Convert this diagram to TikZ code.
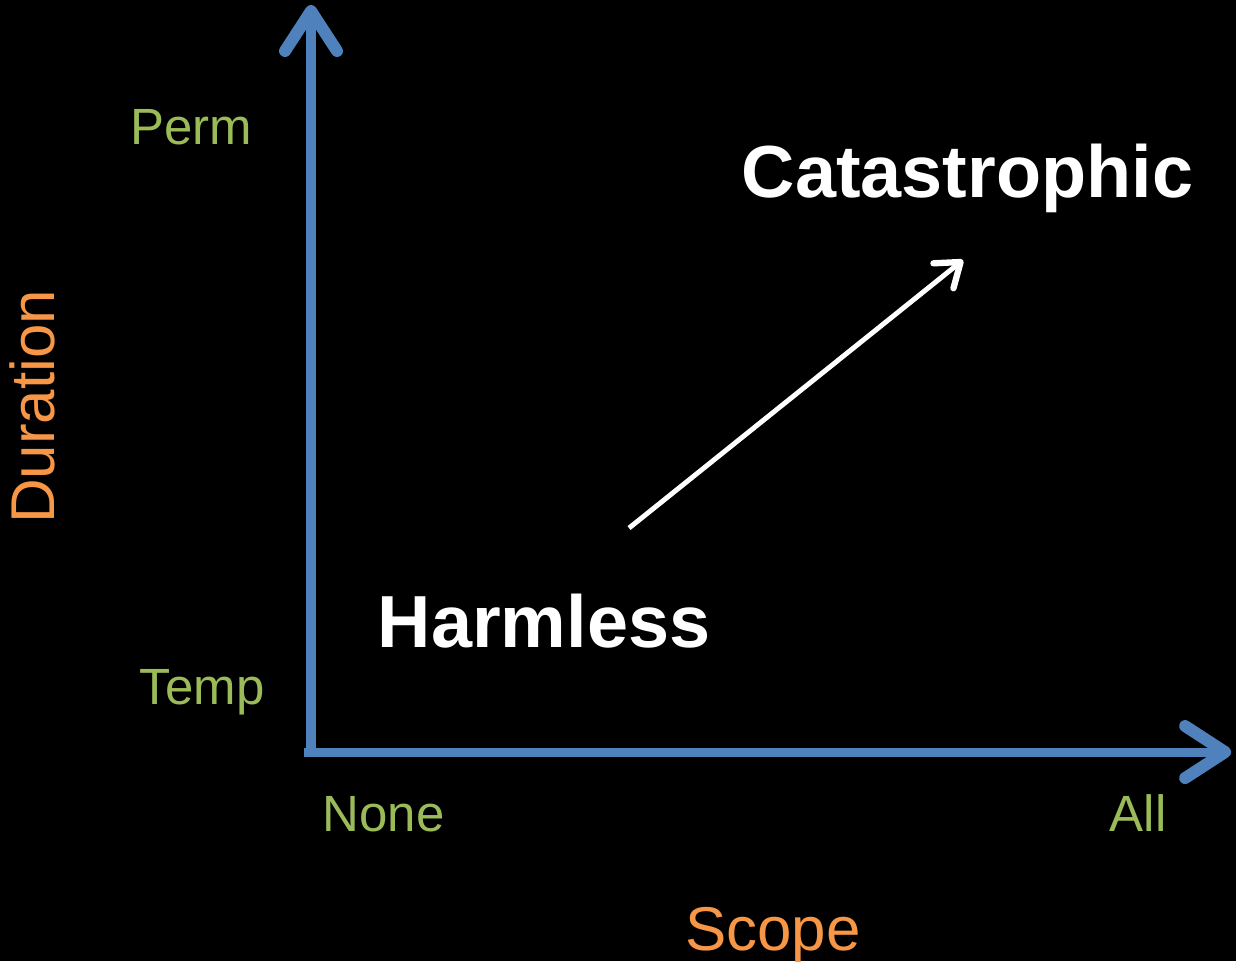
\documentclass[tikz,border=0pt]{standalone}
\usepackage{fontspec}
\setmainfont{Liberation Sans}
\usetikzlibrary{arrows.meta}

\definecolor{axisblue}{HTML}{4F81BD}
\definecolor{ticgreen}{HTML}{9BBB59}
\definecolor{titorange}{HTML}{F79646}

\begin{document}
\begin{tikzpicture}[scale=0.1]
\tikzset{
  axis/.style={axisblue, line width=2.6pt, -{Straight Barb[length=4mm, width=5.2mm, round, line width=3.4pt]}},
  tic/.style={ticgreen, anchor=base, inner sep=0pt, font=\fontsize{14.5pt}{17pt}\selectfont},
  title/.style={titorange, anchor=base, inner sep=0pt, font=\fontsize{17.6pt}{21pt}\selectfont},
  level/.style={white, anchor=base, inner sep=0pt, font=\fontsize{21pt}{25pt}\selectfont\bfseries}
}
% black page
\fill [black] (0,0) rectangle (123.6,-96.1);
\useasboundingbox (0,0) rectangle (123.6,-96.1);
% axes
\coordinate (ybot) at (31.1,-75.6);
\coordinate (ytop) at (31.1,-0.5);
\coordinate (xleft) at (30.4,-75.2);
\coordinate (xright) at (123.1,-75.2);
\draw [axis] (ybot) -- (ytop);
\draw [axis] (xleft) -- (xright);
% tick labels
\node [tic] (perm) at (19.15,-14.4) {Perm};
\node [tic] (temp) at (20.2,-70.4) {Temp};
\node [tic] (none) at (38.35,-83.1) {None};
\node [tic] (all) at (113.8,-83.1) {All};
% axis titles
\node [title, rotate=90] (duration) at (5.4,-40.7) {Duration};
\node [title] (scope) at (77.3,-95.0) {Scope};
% the two ends
\node [level] (harmless) at (54.4,-64.7) {Harmless};
\node [level] (catastrophic) at (96.75,-19.7) {Catastrophic};
\coordinate (from) at (62.9,-52.8);
\coordinate (to) at (96.3,-26.0);
\draw [white, line width=1.4pt, -{Straight Barb[length=2.2mm, width=3.2mm, round, line width=1.8pt]}] (from) -- (to);
\end{tikzpicture}
\end{document}
